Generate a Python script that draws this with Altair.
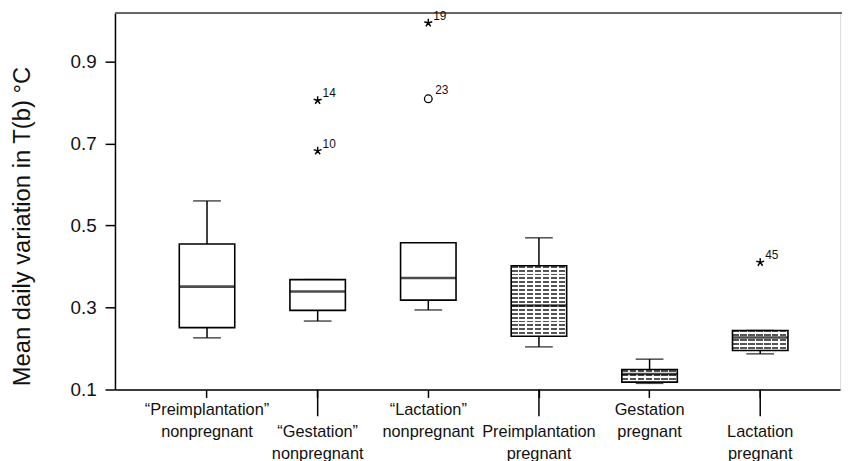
import json
import altair as alt
import pandas as pd

# ---------------- data ----------------
groups = [
    "\u201cPreimplantation\u201d nonpregnant",
    "\u201cGestation\u201d nonpregnant",
    "\u201cLactation\u201d nonpregnant",
    "Preimplantation pregnant",
    "Gestation pregnant",
    "Lactation pregnant",
]
whisker_low = [0.226, 0.267, 0.294, 0.204, 0.115, 0.187]
q1 = [0.251, 0.293, 0.318, 0.230, 0.118, 0.195]
median = [0.351, 0.339, 0.372, 0.305, 0.138, 0.227]
q3 = [0.455, 0.368, 0.458, 0.402, 0.149, 0.244]
whisker_high = [0.560, 0.368, 0.458, 0.470, 0.174, 0.244]
pregnant = [False, False, False, True, True, True]

out_group = [groups[1], groups[1], groups[2], groups[5], groups[2]]
out_value = [0.805, 0.682, 0.994, 0.410, 0.809]
out_label = ["14", "10", "19", "45", "23"]
out_kind = ["star", "star", "star", "star", "circle"]

y_ticks = [0.1, 0.3, 0.5, 0.7, 0.9]
staggered = [groups[1], groups[3], groups[5]]

box_df = pd.DataFrame({
    "group": groups, "lo": whisker_low, "q1": q1, "med": median,
    "q3": q3, "hi": whisker_high, "preg": pregnant,
})
out_df = pd.DataFrame({"group": out_group, "value": out_value,
                       "label": out_label, "kind": out_kind})

W, H = 732, 380
FONT = "Liberation Sans"

label_expr = (
    "indexof(" + json.dumps(staggered, ensure_ascii=False) + ", datum.value) >= 0"
    " ? split(' ' + datum.value, ' ') : split(datum.value, ' ')"
)

x_enc = alt.X(
    "group:N", sort=groups,
    scale=alt.Scale(domain=groups, paddingInner=0, paddingOuter=0.2766, align=0.6),
    axis=alt.Axis(title=None, labelExpr=label_expr, labelAngle=0, labelFontSize=16.5,
                  labelLineHeight=22.5, labelBaseline="top", labelPadding=4,
                  tickSize=8, tickColor="black", tickWidth=1.5,
                  domainColor="black", domainWidth=1.5, labelColor="#111",
                  labelFont=FONT, grid=False),
)

y_scale = alt.Scale(domain=[0.1, 1.018], nice=False, zero=False)
y_axis = alt.Axis(title="Mean daily variation in T(b)  \u00b0C", values=y_ticks, format=".1f",
                  titleFontSize=24, titleFontWeight="normal", titleColor="#111",
                  titleFont=FONT, titlePadding=36, titleY=215,
                  labelFontSize=19, labelColor="#111", labelFont=FONT, labelPadding=9,
                  tickSize=10, tickColor="black", tickWidth=1.5,
                  domainColor="black", domainWidth=1.5, grid=False)


def Y(field):
    return alt.Y(field + ":Q", scale=y_scale, axis=y_axis)


base = alt.Chart(box_df)

whisk_lo = base.mark_rule(color="black", strokeWidth=1.5).encode(x=x_enc, y=Y("lo"), y2="q1:Q")
whisk_hi = base.mark_rule(color="black", strokeWidth=1.5).encode(x=x_enc, y=Y("q3"), y2="hi:Q")
cap_lo = base.mark_tick(color="black", size=28, thickness=1.5).encode(x=x_enc, y=Y("lo"))
cap_hi = base.mark_tick(color="black", size=28, thickness=1.5).encode(x=x_enc, y=Y("hi"))

plain_box = base.transform_filter("!datum.preg").mark_bar(
    size=56, fill="white", stroke="black", strokeWidth=1.6
).encode(x=x_enc, y=Y("q1"), y2="q3:Q")


def stripes(n, dark, light, frac):
    stops = []
    for i in range(n):
        a, b, c = i / n, (i + frac) / n, (i + 1) / n
        stops += [alt.GradientStop(offset=a, color=dark), alt.GradientStop(offset=b, color=dark),
                  alt.GradientStop(offset=b, color=light), alt.GradientStop(offset=c, color=light)]
    return stops


rows = {groups[3]: 18, groups[4]: 3, groups[5]: 5}
pattern_layers = []
for g, n in rows.items():
    sub = base.transform_filter(alt.datum.group == g)
    rowfill = alt.LinearGradient(gradient="linear", x1=0, x2=0, y1=0, y2=1,
                                 stops=stripes(n, "#555555", "#ffffff", 0.5))
    gapfill = alt.LinearGradient(gradient="linear", x1=0, x2=1, y1=0, y2=0,
                                 stops=stripes(7, "rgba(255,255,255,0)", "#ffffff", 0.8))
    pattern_layers.append(sub.mark_bar(size=56, fill=rowfill).encode(x=x_enc, y=Y("q1"), y2="q3:Q"))
    pattern_layers.append(sub.mark_bar(size=56, fill=gapfill).encode(x=x_enc, y=Y("q1"), y2="q3:Q"))

preg_outline = base.transform_filter("datum.preg").mark_bar(
    size=56, fill="white", fillOpacity=0, stroke="black", strokeWidth=1.6
).encode(x=x_enc, y=Y("q1"), y2="q3:Q")

med = base.mark_tick(color="black", size=56, thickness=2.6).encode(x=x_enc, y=Y("med"))

star_path = ("M0,0L0,-1M0,0L0.951,-0.309M0,0L0.588,0.809"
             "M0,0L-0.588,0.809M0,0L-0.951,-0.309")
outs = alt.Chart(out_df)
stars = outs.transform_filter("datum.kind == 'star'").mark_point(
    shape=star_path, size=70, filled=False, color="black", strokeWidth=1.5, opacity=1
).encode(x=x_enc, y=Y("value"))
circ = outs.transform_filter("datum.kind == 'circle'").mark_point(
    shape="circle", size=60, filled=False, color="black", strokeWidth=1.3, opacity=1
).encode(x=x_enc, y=Y("value"))
star_lab = outs.transform_filter("datum.kind == 'star'").mark_text(
    align="left", baseline="middle", dx=5, dy=-7, fontSize=12, font=FONT, color="#111"
).encode(x=x_enc, y=Y("value"), text="label:N")
circ_lab = outs.transform_filter("datum.kind == 'circle'").mark_text(
    align="left", baseline="middle", dx=7, dy=-9, fontSize=12, font=FONT, color="#111"
).encode(x=x_enc, y=Y("value"), text="label:N")

long_ticks = base.transform_filter(
    alt.FieldOneOfPredicate(field="group", oneOf=staggered)
).mark_rule(color="black", strokeWidth=1.5).encode(
    x=x_enc, y=alt.value(H), y2=alt.value(H + 27)
)

top_border = base.mark_rule(color="#666666", strokeWidth=1.5).encode(
    x=alt.value(0), x2=alt.value(W + 20), y=alt.value(0)
)

chart = alt.layer(
    top_border, whisk_lo, whisk_hi, cap_lo, cap_hi, plain_box,
    *pattern_layers, preg_outline, med, stars, circ, star_lab, circ_lab, long_ticks
).properties(
    width=W, height=H,
    autosize=alt.AutoSizeParams(type="none"),
    padding={"left": 108, "top": 3, "right": 2, "bottom": 70},
).configure_view(stroke=None).configure(font=FONT, background="white")

chart.save("out.html", embed_options={"renderer": "svg", "actions": False})
